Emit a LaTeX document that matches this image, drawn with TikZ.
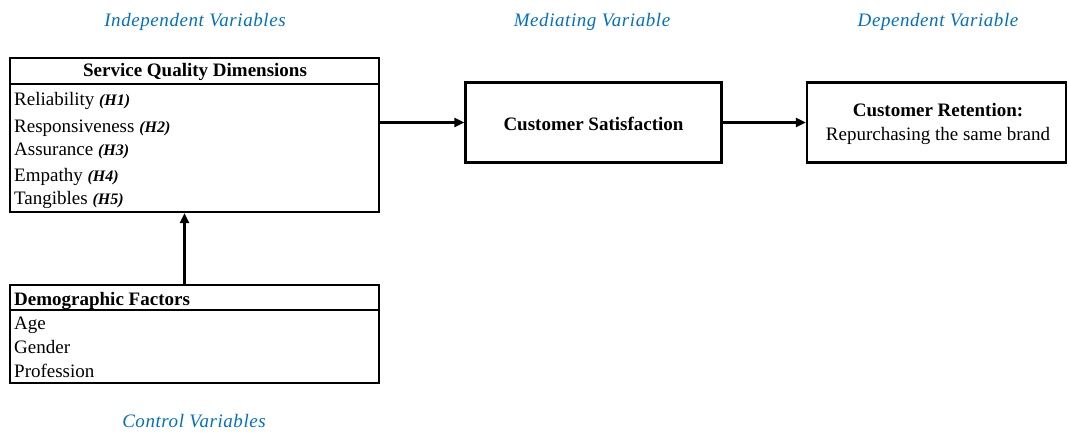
\documentclass[tikz,border=0pt]{standalone}
\usepackage{fontspec}
\setmainfont{Liberation Serif}
\newfontfamily\labelfont[LetterSpace=3]{Liberation Serif}
\usetikzlibrary{arrows.meta}
\definecolor{labelblue}{RGB}{0,112,192}
\newcommand\hypo[1]{{\fontsize{16}{18}\selectfont\bfseries\itshape(#1)}}
\begin{document}
\begin{tikzpicture}[x=1pt,y=-1pt,
  box/.style={draw=black, line width=2.2pt, inner sep=0pt},
  divider/.style={line width=1.3pt},
  txt/.style={font=\fontsize{19}{23}\selectfont, inner sep=0pt},
  item/.style={txt, anchor=base west},
  head/.style={font=\fontsize{19}{23}\selectfont\bfseries, inner sep=0pt, anchor=base},
  lab/.style={font=\labelfont\fontsize{19}{23}\selectfont\itshape, text=labelblue, inner sep=0pt, anchor=base},
  arr/.style={-{Triangle[length=10pt,width=9pt]}, line width=2.4pt}]
\useasboundingbox (0,0) rectangle (1068,433);

% labels
\node[lab] (lind) at (195,27) {Independent Variables};
\node[lab] (lmed) at (592,27) {Mediating Variable};
\node[lab] (ldep) at (938,27) {Dependent Variable};
\node[lab] (lctl) at (194,427) {Control Variables};

% Service quality box
\node[box, minimum width=369pt, minimum height=154pt] (sqd) at (194.5,135) {};
\draw[divider] (sqd.west |- 0,84) -- (sqd.east |- 0,84);
\node[head] (sqdh) at (195,77) {Service Quality Dimensions};
\node[item] (i1) at (14,106) {Reliability \hypo{H1}};
\node[item] (i2) at (14,133) {Responsiveness \hypo{H2}};
\node[item] (i3) at (14,155) {Assurance \hypo{H3}};
\node[item] (i4) at (14,181) {Empathy \hypo{H4}};
\node[item] (i5) at (14,204) {Tangibles \hypo{H5}};

% Demographic box
\node[box, minimum width=369pt, minimum height=98pt] (demo) at (194.5,334) {};
\draw[divider] (demo.west |- 0,310) -- (demo.east |- 0,310);
\node[head, anchor=base west] (demoh) at (14,305) {Demographic Factors};
\node[item] (d1) at (14,329) {Age};
\node[item] (d2) at (14,353) {Gender};
\node[item] (d3) at (14,377) {Profession};

% Customer satisfaction
\node[box, minimum width=256pt, minimum height=80pt] (cs) at (593.5,122.5) {};
\node[head] (cst) at (593.5,131) {Customer Satisfaction};

% Customer retention
\node[box, minimum width=259pt, minimum height=80pt] (cr) at (936.5,122.5) {};
\node[head] (crt) at (938,117) {Customer Retention:};
\node[txt, anchor=base] (crs) at (938,140) {Repurchasing the same brand};

% arrows
\draw[arr] (sqd.east |- cs.west) -- (cs.west);
\draw[arr] (cs.east) -- (cr.west);
\draw[arr] ([xshift=-10pt]demo.north) -- ([xshift=-10pt]sqd.south);
\end{tikzpicture}
\end{document}
